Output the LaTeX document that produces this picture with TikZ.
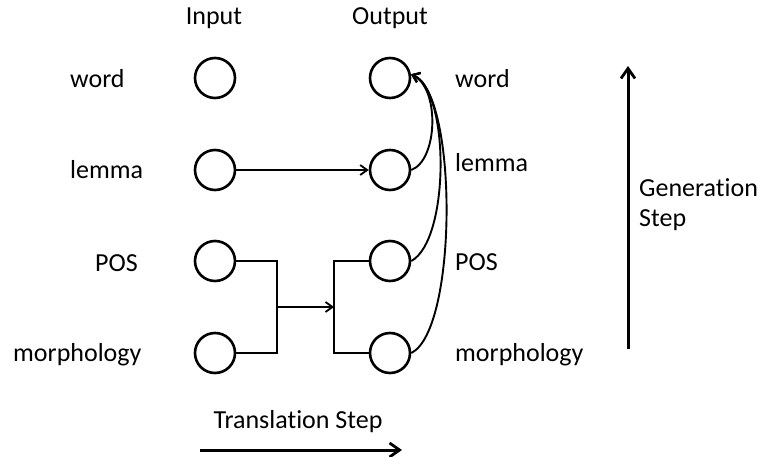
\documentclass[tikz,border=0pt]{standalone}
\usepackage{fontspec}
\setmainfont{Carlito}[Ligatures=NoCommon]
\usetikzlibrary{arrows.meta, positioning}

\begin{document}
\begin{tikzpicture}[x=1pt, y=-1pt,
    factor/.style={circle, draw, line width=2.6pt, minimum size=40pt, inner sep=0pt},
    lbl/.style={font=\fontsize{26}{30}\selectfont, inner sep=0pt},
    conn/.style={line width=1.9pt, -{Straight Barb[length=7pt, width=10pt, line width=1.8pt]}},
    bigarrow/.style={line width=3pt, -{Straight Barb[length=10pt, width=14pt, line width=2.8pt]}}]
    \useasboundingbox (0,0) rectangle (762,457);

    % Headings
    \node[lbl] (input) at (214,18) {Input};
    \node[lbl] (output) at (390,18) {Output};

    % Input factors
    \node[factor] (inword) at (215,78) {};
    \node[factor] (inlemma) at (215,170) {};
    \node[factor] (inpos) at (215,261) {};
    \node[factor] (inmorph) at (215,353) {};

    % Output factors
    \node[factor] (outword) at (390,78) {};
    \node[factor] (outlemma) at (390,170) {};
    \node[factor] (outpos) at (390,261) {};
    \node[factor] (outmorph) at (390,353) {};

    % Factor names
    \node[lbl, anchor=west] (lword) at (70,79) {word};
    \node[lbl, anchor=west] (llemma) at (70,170) {lemma};
    \node[lbl, anchor=west] (lpos) at (95,263) {POS};
    \node[lbl, anchor=west] (lmorph) at (13,355) {morphology};
    \node[lbl, anchor=west] (rword) at (455,79) {word};
    \node[lbl, anchor=west] (rlemma) at (455,163) {lemma};
    \node[lbl, anchor=west] (rpos) at (455,262) {POS};
    \node[lbl, anchor=west] (rmorph) at (455,355) {morphology};

    % Translation steps
    \draw[conn] (inlemma) -- (outlemma);
    \coordinate (lbar) at (277,307);
    \coordinate (rbar) at (334,307);
    \draw[line width=1.9pt] (inpos.east) -| (lbar) |- (inmorph.east);
    \draw[line width=1.9pt] (outpos.west) -| (rbar) |- (outmorph.west);
    \draw[conn] (lbar) -- (rbar);

    % Generation steps
    \draw[conn] (outlemma.east) .. controls (438,160) and (440,88) .. (outword.10);
    \draw[conn] (outpos.east) .. controls (450,240) and (450,90) .. (outword.10);
    \draw[conn] (outmorph.east) .. controls (458,330) and (458,92) .. (outword.10);

    % Step arrows
    \node[lbl, anchor=west] (gen) at (639,188) {Generation};
    \node[lbl, anchor=west] (genstep) at (639,220) {Step};
    \coordinate (genbot) at (628,349);
    \coordinate (gentop) at (628,66);
    \draw[bigarrow] (genbot) -- (gentop);

    \node[lbl] (trans) at (298,422) {Translation Step};
    \coordinate (transl) at (200,450);
    \coordinate (transr) at (402,450);
    \draw[bigarrow] (transl) -- (transr);
\end{tikzpicture}
\end{document}
